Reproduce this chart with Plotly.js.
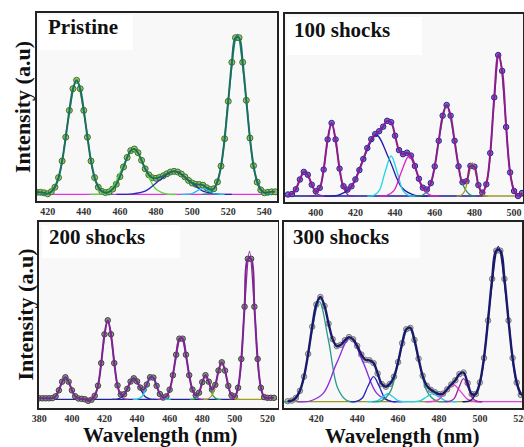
<!DOCTYPE html>
<html><head><meta charset="utf-8">
<script src="https://cdn.plot.ly/plotly-3.0.1.min.js"></script>
<style>html,body{margin:0;padding:0;background:#fff}#chart{width:524px;height:447px}</style>
</head><body><div id="chart"></div>
<script>
// ---------------- DATA ----------------
const panelTitles = ["Pristine", "100 shocks", "200 shocks", "300 shocks"];
const yTitle = "Intensity (a.u)";
const xTitle = "Wavelength (nm)";
const wavelengthStep = 2;            // nm between measured points
const wavelengthStart = [414, 386, 380, 406];

// measured intensity (a.u., baseline = 0)
const pristineI = [2,2,1.5,0.5,2.6,7.1,16.7,33.3,57.1,83.9,105.6,114,105.6,83.9,57.1,33.3,16.7,7.1,2.9,1.7,
  2.4,5.2,10.1,17.7,27.3,36.8,43.7,45.3,41.6,34,25.5,19.5,16.5,16,17,18.5,20.5,22.3,23,22.3,
  20.3,17.4,13.9,11.3,10,9.8,9.1,6.6,4.8,5.6,12.4,28.2,55.6,93,132,156.6,156.6,132,94,56.3,
  28.6,12.2,4.4,1.5,2,2.5,2.5];
const shocks100I = [1.5,2,6.7,16.5,24.1,21.2,11.3,4.8,8.1,26.4,56.6,73,56.6,27.4,9.8,6.3,9.7,16.6,25.9,37,
  48,56.8,61.9,64.8,69.3,75.2,73.8,60.3,45.9,41.8,43.3,40.4,30,17.3,8.3,6.4,12.9,29.6,55.2,80.3,
  91,80.3,55.2,29.7,13.8,14.7,30.1,29.3,10.9,3.4,11.7,42.9,98.6,140.9,125.1,69,23.6,5,0,3];
const shocks200I = [1,1,1,1,1.2,3,9,17.6,22,17.6,9,3,0.8,0.5,0,-1.5,-0.5,3.5,13.6,36.2,
  65,79,65,36.2,13.9,4.8,5,10.5,17.7,21,17.9,11.7,9.6,14.8,22,21.7,13.5,5.3,1.8,3,
  9.6,24.1,44.6,60.6,60.6,44.6,24.1,9.7,3.9,6.6,17.1,24.1,17.6,9.7,14.4,28.8,37,28.7,13.4,4,
  2.8,11.6,40.3,92.6,140.5,140.5,92.6,40.3,11.5,2.2,1.5,1.5,1.5];
const shocks300I = [0.5,1.1,3.8,10.9,25.1,47.8,75,97.2,104.7,95.8,78.1,62.5,55.6,56.9,61.5,64.6,62.4,55.8,47.2,41.9,
  41.4,38.6,28.2,17.6,15,17.8,25,39.6,58.5,72.4,73.8,61.8,43,26,16,11.9,9.5,7.5,8.1,12.4,
  17.2,21.4,27.6,29.2,18.6,7.7,7.7,19.2,43.7,81.2,122.8,151,151,122.8,81.2,43.7,19.1,6.8];

// fitted Gaussian components: points
const pristineCompX = [
  [415.6,420.7,425.8,430.9,436,441.1,446.2,451.3,456.4],
  [443.5,449.5,455.5,461.5,467.5,473.5,479.5,485.5,491.5],
  [458,466,474,482,490,498,506,514,522],
  [494,497,500,503,506,509,512,515,518],
  [505.6,510.45,515.3,520.15,525,529.85,534.7,539.55,544.4]];
const pristineCompY = [
  [0,1.3,15.4,69.2,114,69.2,15.4,1.3,0],
  [0,0.5,6.1,27.3,45,27.3,6.1,0.5,0],
  [0,0.25,3.1,14,23,14,3.1,0.25,0],
  [0,0.07,0.8,3.6,6,3.6,0.8,0.07,0],
  [0,1.8,21.6,97.1,160,97.1,21.6,1.8,0]];
const shocks100CompX = [
  [383.3,386.1,388.9,391.7,394.5,397.3,400.1,402.9,405.7],
  [396.8,399.6,402.4,405.2,408,410.8,413.6,416.4,419.2],
  [404.5,411,417.5,424,430.5,437,443.5,450,456.5],
  [426,429,432,435,438,441,444,447,450],
  [431.8,435.6,439.4,443.2,447,450.8,454.6,458.4,462.2],
  [450,454,458,462,466,470,474,478,482],
  [471,473,475,477,479,481,483,485,487],
  [480.9,483.8,486.7,489.6,492.5,495.4,498.3,501.2,504.1]];
const shocks100CompY = [
  [0,0.27,3.3,14.9,24.5,14.9,3.3,0.27,0],
  [0,0.8,9.9,44.3,73,44.3,9.9,0.8,0],
  [0,0.67,8.2,37,61,37,8.2,0.67,0],
  [0,0.44,5.4,24.3,40,24.3,5.4,0.44,0],
  [0,0.44,5.4,24.3,40,24.3,5.4,0.44,0],
  [0,1,12.3,55.2,91,55.2,12.3,1,0],
  [0,0.36,4.5,20,33,20,4.5,0.36,0],
  [0,1.6,19.3,86.8,143,86.8,19.3,1.6,0]];
const shocks200CompX = [
  [384,387,390,393,396,399,402,405,408],
  [409.2,412.4,415.6,418.8,422,425.2,428.4,431.6,434.8],
  [424.4,427.8,431.2,434.6,438,441.4,444.8,448.2,451.6],
  [437.4,440.3,443.2,446.1,449,451.9,454.8,457.7,460.6],
  [452.6,456.2,459.8,463.4,467,470.6,474.2,477.8,481.4],
  [472.4,474.8,477.2,479.6,482,484.4,486.8,489.2,491.6],
  [480.8,483.6,486.4,489.2,492,494.8,497.6,500.4,503.2],
  [496.6,499.7,502.8,505.9,509,512.1,515.2,518.3,521.4]];
const shocks200CompY = [
  [0,0.24,3,13.4,22,13.4,3,0.24,0],
  [0,0.87,10.7,48,79,48,10.7,0.87,0],
  [0,0.23,2.8,12.7,21,12.7,2.8,0.23,0],
  [0,0.25,3.1,14,23,14,3.1,0.25,0],
  [0,0.69,8.5,38.2,63,38.2,8.5,0.69,0],
  [0,0.26,3.2,14.6,24,14.6,3.2,0.26,0],
  [0,0.41,5,22.5,37,22.5,5,0.41,0],
  [0,1.6,20,89.8,148,89.8,20,1.6,0]];
const shocks300CompX = [
  [403.5,408,412.5,417,421.5,426,430.5,435,439.5],
  [410.5,417,423.5,430,436.5,443,449.5,456,462.5],
  [436.8,439.6,442.4,445.2,448,450.8,453.6,456.4,459.2],
  [445,447.5,450,452.5,455,457.5,460,462.5,465],
  [447.2,451.7,456.2,460.7,465.2,469.7,474.2,478.7,483.2],
  [465,468,471,474,477,480,483,486,489],
  [473,476.5,480,483.5,487,490.5,494,497.5,501],
  [482.8,485.1,487.4,489.7,492,494.3,496.6,498.9,501.2],
  [491.4,495.8,500.2,504.6,509,513.4,517.8,522.2,526.6]];
const shocks300CompY = [
  [0,1.1,13.5,60.7,100,60.7,13.5,1.1,0],
  [0,0.7,8.6,38.8,64,38.8,8.6,0.7,0],
  [0,0.28,3.4,15.2,25,15.2,3.4,0.28,0],
  [0,0.09,1.1,4.9,8,4.9,1.1,0.09,0],
  [0,0.8,10.1,45.5,75,45.5,10.1,0.8,0],
  [0,0.09,1.1,4.9,8,4.9,1.1,0.09,0],
  [0,0.19,2.3,10.3,17,10.3,2.3,0.19,0],
  [0,0.25,3.1,14,23,14,3.1,0.25,0],
  [0,1.7,20.9,94.1,155,94.1,20.9,1.7,0]];

// baselines [x start, x end] segments
const pristineBase = [[413.8, 547]];
const shocks100Base = [[384.5, 486], [484, 504.5]];
const shocks200Base = [[379.8, 500], [500, 526.2]];
const shocks300Base = [[404.2, 497], [497, 520.6]];

// ---------------- STYLE ----------------
const serif = "Liberation Serif, 'Times New Roman', serif";
const styles = [
  {fit:'#1b6e60', fitW:2, mFill:'#96c864', mLine:'#3f6f2a', mSize:6,
   comp:['#2e8b57','#5cd63a','#2828b4','#1cc4ea','#1f8a78'], base:['#e431e4']},
  {fit:'#8a1c8c', fitW:2, mFill:'#7c6cd6', mLine:'#262690', mSize:5.5,
   comp:['#8a2a9a','#8a2a9a','#1f1fa8','#22d3e6','#e020c8','#2a8a6a','#a09a20','#8a2a9a'], base:['#1a1a8a','#a09a20']},
  {fit:'#7a2590', fitW:2, mFill:'#8a9686', mLine:'#3b463b', mSize:5.5,
   comp:['#2a8a7a','#8a2a9a','#2a2aa0','#22c8e0','#9a30b0','#2a9a5a','#a0a020','#8a2a9a'], base:['#22229a','#a0a020']},
  {fit:'#1a1a6c', fitW:2.4, mFill:'rgba(190,190,190,0.9)', mLine:'#7a7a7a', mSize:5.5,
   comp:['#2a9a8a','#8a2ae0','#2020c0','#20d0e8','#2a9a7a','#20d0e8','#e040d0','#a020a0','#1a1a6c'], base:['#9a9a20','#e040d0']}
];

const panelData = [
  {I: pristineI, cx: pristineCompX, cy: pristineCompY, base: pristineBase},
  {I: shocks100I, cx: shocks100CompX, cy: shocks100CompY, base: shocks100Base},
  {I: shocks200I, cx: shocks200CompX, cy: shocks200CompY, base: shocks200Base},
  {I: shocks300I, cx: shocks300CompX, cy: shocks300CompY, base: shocks300Base}
];

const traces = [];
panelData.forEach((p, k) => {
  const xa = k === 0 ? 'x' : 'x' + (k + 1);
  const ya = k === 0 ? 'y' : 'y' + (k + 1);
  const st = styles[k];
  p.base.forEach((seg, j) => traces.push({type:'scatter', mode:'lines', x: seg, y: [0, 0],
    xaxis: xa, yaxis: ya, line: {color: st.base[j], width: 1.3}, hoverinfo: 'skip'}));
  traces.push({type:'scatter', mode:'markers', x0: wavelengthStart[k], dx: wavelengthStep, y: p.I,
    xaxis: xa, yaxis: ya, marker: {symbol:'circle', size: st.mSize, color: st.mFill, line: {color: st.mLine, width: 1}}});
  p.cx.forEach((cx, j) => traces.push({type:'scatter', mode:'lines', x: cx, y: p.cy[j],
    xaxis: xa, yaxis: ya, line: {color: st.comp[j], width: 1.3, shape: 'spline', smoothing: 1}}));
  traces.push({type:'scatter', mode:'lines', x0: wavelengthStart[k], dx: wavelengthStep, y: p.I,
    xaxis: xa, yaxis: ya, line: {color: st.fit, width: st.fitW, shape: 'spline', smoothing: 1}});
});

const W = 524, H = 447;
const fx = px => px / W, fy = py => 1 - py / H;
const boxes = [
  {l:36.5, r:277, t:13, b:201, range:[413.8,547], yr:[-6.7,181.3]},
  {l:285, r:523, t:14, b:202, range:[384.5,504.5], yr:[-6,182]},
  {l:39, r:277.5, t:222, b:408, range:[379.8,526.2], yr:[-8.7,177.3]},
  {l:284, r:522, t:222, b:408, range:[404.2,520.6], yr:[-6.3,179.7]}
];

const layout = {
  width: W, height: H, margin: {l:0, r:0, t:0, b:0},
  paper_bgcolor: '#ffffff', plot_bgcolor: '#f8f8f8', showlegend: false,
  font: {family: serif, color: '#111'},
  annotations: [], shapes: []
};
boxes.forEach((b, k) => {
  const sx = k === 0 ? '' : String(k + 1);
  // main axis: labels only (no tick marks, so labels sit close to the frame)
  layout['xaxis' + sx] = {domain: [fx(b.l), fx(b.r)], range: b.range, anchor: 'y' + sx,
    showline: true, mirror: true, linecolor: '#222', linewidth: 1.6, showgrid: false, zeroline: false,
    ticks: '', dtick: 20, tick0: 0, ticklabeloverflow: 'allow',
    tickfont: {family: serif, size: 10, color: '#333', weight: 'bold'}};
  // overlay axis: outside tick marks only
  const ox = String(k + 5);
  layout['xaxis' + ox] = {domain: [fx(b.l), fx(b.r)], range: b.range, anchor: 'y' + sx,
    overlaying: 'x' + sx, side: 'bottom', showline: false, showgrid: false, zeroline: false,
    showticklabels: false, ticks: 'outside', ticklen: 4, tickwidth: 1.4, tickcolor: '#222', dtick: 20, tick0: 0};
  layout['yaxis' + sx] = {domain: [fy(b.b), fy(b.t)], range: b.yr, anchor: 'x' + sx,
    showline: true, mirror: true, linecolor: '#222', linewidth: 1.6, showgrid: false, zeroline: false,
    showticklabels: false, ticks: ''};
});
// white label boxes
const labelBoxes = [[39,133,15,50],[287,422,17,55],[42,180,225,258],[287,420,223,258]];
labelBoxes.forEach((lb, k) => {
  const sx = k === 0 ? '' : String(k + 1);
  const b = boxes[k];
  layout.shapes.push({type:'rect', layer:'below', xref:'x' + sx + ' domain', yref:'y' + sx + ' domain',
    x0: (lb[0]-b.l)/(b.r-b.l), x1: (lb[1]-b.l)/(b.r-b.l), y0: (b.b-lb[3])/(b.b-b.t), y1: (b.b-lb[2])/(b.b-b.t),
    fillcolor:'#ffffff', line:{width:0}});
});
const titlePos = [[46,27],[292,30],[46.5,236.5],[291,236.5]];
panelTitles.forEach((t, k) => layout.annotations.push({text: t, xref:'paper', yref:'paper',
  x: fx(titlePos[k][0]), y: fy(titlePos[k][1]), xanchor:'left', yanchor:'middle', showarrow:false,
  font: {family: serif, size: 21, color: '#111', weight: 'bold'}}));
[[22.5,107.5],[25,314.5]].forEach(p => layout.annotations.push({text: yTitle, xref:'paper', yref:'paper',
  x: fx(p[0]), y: fy(p[1]), xanchor:'center', yanchor:'middle', textangle: -90, showarrow:false,
  font: {family: serif, size: 22, color: '#111', weight: 'bold'}}));
[[160,434.5],[402.5,436]].forEach(p => layout.annotations.push({text: xTitle, xref:'paper', yref:'paper',
  x: fx(p[0]), y: fy(p[1]), xanchor:'center', yanchor:'middle', showarrow:false,
  font: {family: serif, size: 21, color: '#111', weight: 'bold'}}));

Plotly.newPlot('chart', traces, layout, {displayModeBar: false, staticPlot: true});
</script>
</body></html>
